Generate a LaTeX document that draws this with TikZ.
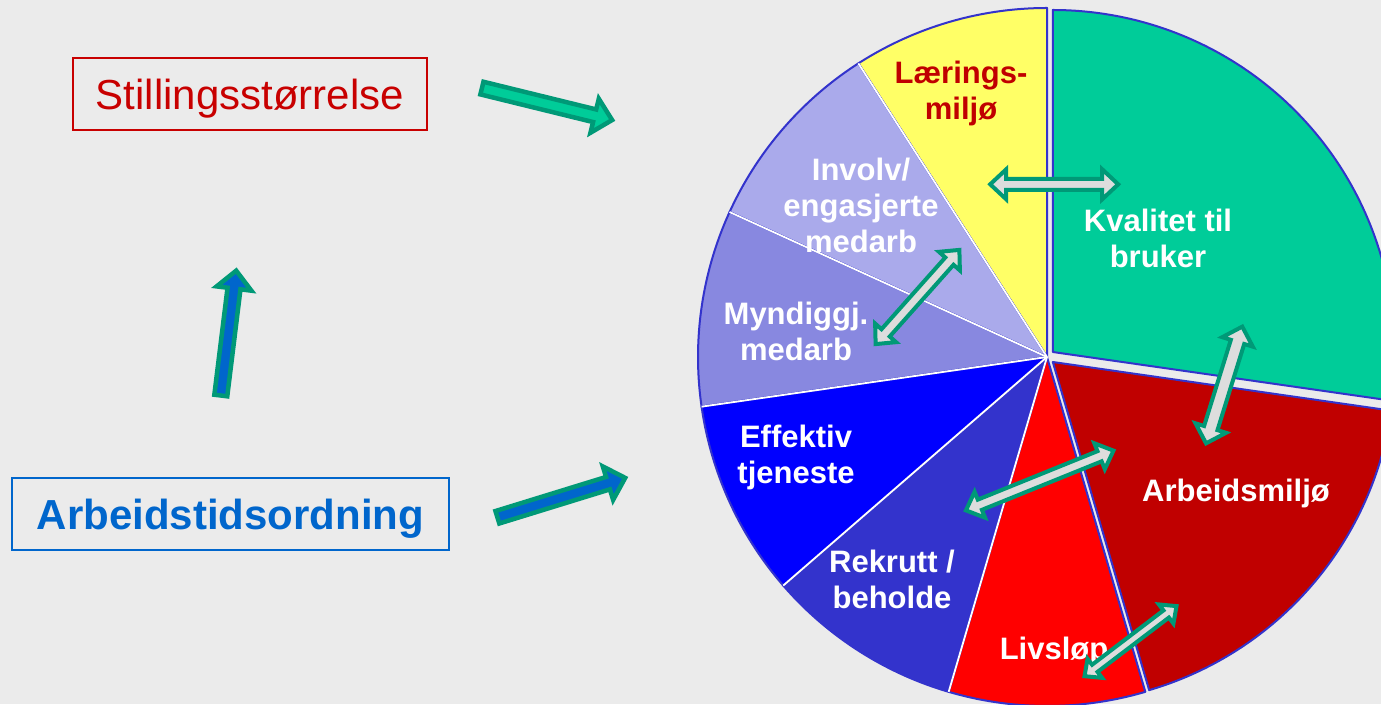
\documentclass[tikz,border=0pt]{standalone}
\usepackage{fontspec}
\setmainfont{Liberation Sans}
\usetikzlibrary{calc}
\definecolor{bg}{RGB}{235,235,235}
\definecolor{cGreen}{RGB}{0,204,153}
\definecolor{cYellow}{RGB}{255,255,102}
\definecolor{cLav}{RGB}{170,170,235}
\definecolor{cMed}{RGB}{136,136,224}
\definecolor{cBlue}{RGB}{0,0,255}
\definecolor{cDBlue}{RGB}{51,51,204}
\definecolor{cRed}{RGB}{255,0,0}
\definecolor{cDRed}{RGB}{192,0,0}
\definecolor{cEdge}{RGB}{51,51,204}
\definecolor{cOut}{RGB}{0,153,119}
\definecolor{cArrBlue}{RGB}{0,102,204}
\definecolor{cGrey}{RGB}{221,221,221}
\definecolor{cBoxRed}{RGB}{200,0,0}

\newcommand\pieslice[5]{\filldraw[slicestyle, fill=#5] (#1) -- ++(#2:#4pt) arc[start angle=#2, end angle=#3, radius=#4pt] -- cycle;}
\newcommand\blkarrow[3]{%
  \coordinate (ba-t) at ($(#1)!2.5pt!(#2)$);
  \coordinate (ba-p) at ($(#2)!4pt!(#1)$);
  \coordinate (ba-h) at ($(ba-p)!18pt!(ba-t)$);
  \filldraw[arrowline, fill=#3] ($(ba-t)!6.5pt!90:(ba-p)$) -- ($(ba-h)!6.5pt!90:(ba-p)$) -- ($(ba-h)!17.5pt!90:(ba-p)$) -- (ba-p) -- ($(ba-h)!17.5pt!-90:(ba-p)$) -- ($(ba-h)!6.5pt!-90:(ba-p)$) -- ($(ba-t)!6.5pt!-90:(ba-p)$) -- cycle;}
\newcommand\dblarrow[5]{%
  \coordinate (da-a) at ($(#1)!3.5pt!(#2)$);
  \coordinate (da-b) at ($(#2)!3.5pt!(#1)$);
  \coordinate (da-ha) at ($(da-a)!#5pt!(da-b)$);
  \coordinate (da-hb) at ($(da-b)!#5pt!(da-a)$);
  \filldraw[dblline] (da-a) -- ($(da-ha)!#4pt!90:(da-b)$) -- ($(da-ha)!#3pt!90:(da-b)$) -- ($(da-hb)!#3pt!-90:(da-a)$) -- ($(da-hb)!#4pt!-90:(da-a)$) -- (da-b) -- ($(da-hb)!#4pt!90:(da-a)$) -- ($(da-hb)!#3pt!90:(da-a)$) -- ($(da-ha)!#3pt!-90:(da-b)$) -- ($(da-ha)!#4pt!-90:(da-b)$) -- cycle;}

\begin{document}
\begin{tikzpicture}[x=1pt,y=1pt,
  slicestyle/.style={draw=cEdge, line width=2pt, line join=round},
  sep/.style={draw=white, line width=1.8pt},
  arrowline/.style={draw=cOut, line width=4.5pt, line join=miter},
  dblline/.style={draw=cOut, fill=cGrey, line width=4pt, line join=miter},
  lbl/.style={text=white, font=\bfseries\fontsize{31}{36}\selectfont, align=center, inner sep=0pt},
  boxtxt/.style={line width=2pt, minimum height=72pt, inner sep=0pt, text height=40pt, text depth=9pt, font=\fontsize{42}{50}\selectfont}]
\useasboundingbox (0,0) rectangle (1381,704);
\clip (0,0) rectangle (1381,704);
\fill[bg] (0,0) rectangle (1381,704);

% pie
\coordinate (C) at (1047,347);
\coordinate (Cg) at (1052.8,352);
\coordinate (Cr) at (1052.8,342);
\pieslice{C}{90}{122.727}{349}{cYellow}
\pieslice{C}{122.727}{155.455}{349}{cLav}
\pieslice{C}{155.455}{188.182}{349}{cMed}
\pieslice{C}{188.182}{220.909}{349}{cBlue}
\pieslice{C}{220.909}{253.636}{349}{cDBlue}
\pieslice{C}{253.636}{286.364}{349}{cRed}
\pieslice{Cr}{286.364}{351.818}{342}{cDRed}
\pieslice{Cg}{-8.182}{90}{342}{cGreen}
\foreach \a in {122.727,155.455,188.182,220.909,253.636}
  \draw[sep] (C) -- ++(\a:349pt);

% labels in the pie
\node[lbl, text=cDRed] (lring) at (961,611) {Lærings-\\miljø};
\node[lbl] (linv) at (861,499) {Involv/\\engasjerte\\medarb};
\node[lbl] (lmyn) at (796,373) {Myndiggj.\\medarb};
\node[lbl] (leff) at (796,247) {Effektiv\\tjeneste};
\node[lbl] (lrek) at (892,125) {Rekrutt /\\beholde};
\node[lbl] (lliv) at (1054,53) {Livsløp};
\node[lbl] (larb) at (1236,211) {Arbeidsmiljø};
\node[lbl] (lkva) at (1158,466) {Kvalitet til\\bruker};

% boxes
\node[boxtxt, draw=cBoxRed, text=cBoxRed, minimum width=354pt] (still) at (250,610) {Stillingsstørrelse};
\node[boxtxt, draw=cArrBlue, text=cArrBlue, minimum width=437pt, font=\bfseries\fontsize{42}{50}\selectfont] (arbt) at (230.5,190) {Arbeidstidsordning};

% single block arrows
\coordinate (s1a) at (479.5,616.5); \coordinate (s1b) at (616,583);
\coordinate (s2a) at (220.5,306);   \coordinate (s2b) at (236.7,437.3);
\coordinate (s3a) at (495,186);     \coordinate (s3b) at (629,227.3);
\blkarrow{s1a}{s1b}{cGreen}
\blkarrow{s2a}{s2b}{cArrBlue}
\blkarrow{s3a}{s3b}{cArrBlue}

% double arrows
\coordinate (d1a) at (986.7,519.7);  \coordinate (d1b) at (1121.7,519.7);
\coordinate (d2a) at (873.3,357.3);  \coordinate (d2b) at (961.7,456.7);
\coordinate (d3a) at (1205,257.3);   \coordinate (d3b) at (1243.3,380.7);
\coordinate (d4a) at (962.7,192.3);  \coordinate (d4b) at (1116.7,254.7);
\coordinate (d5a) at (1081.7,25.7);  \coordinate (d5b) at (1179.3,100);
\dblarrow{d1a}{d1b}{5.5}{15}{16}
\dblarrow{d2a}{d2b}{5.5}{14}{15}
\dblarrow{d3a}{d3b}{7}{16}{16}
\dblarrow{d4a}{d4b}{5.5}{14}{15}
\dblarrow{d5a}{d5b}{4.5}{12}{13}
\end{tikzpicture}
\end{document}
